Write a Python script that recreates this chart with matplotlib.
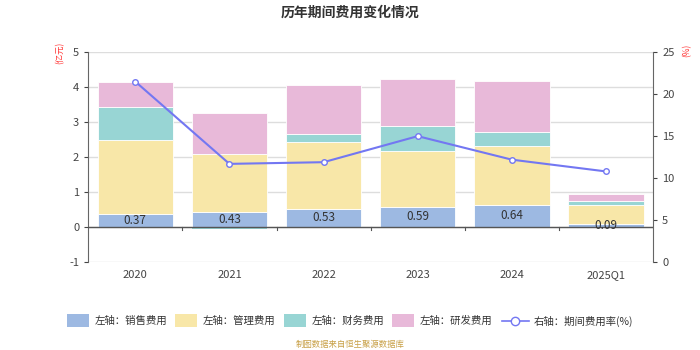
import matplotlib.pyplot as plt
import numpy as np

plt.rcParams['font.family'] = ['Noto Sans CJK SC', 'DejaVu Sans']
plt.rcParams['axes.unicode_minus'] = False

years = ['2020', '2021', '2022', '2023', '2024', '2025Q1']
sales = [0.37, 0.43, 0.53, 0.59, 0.64, 0.09]
admin = [2.13, 1.66, 1.90, 1.59, 1.67, 0.54]
finance = [0.94, -0.06, 0.23, 0.71, 0.40, 0.11]
rnd = [0.70, 1.17, 1.40, 1.34, 1.47, 0.22]
rate = [21.5, 11.7, 11.9, 15.0, 12.2, 10.8]

c_sales = '#9db9e2'
c_admin = '#f8e7a8'
c_fin = '#98d5d4'
c_rnd = '#e8b9d9'
c_line = '#7377f2'

fig = plt.figure(figsize=(7, 3.5), dpi=100)
ax = fig.add_axes([0.126, 0.251, 0.807, 0.6])
ax2 = ax.twinx()

x = np.arange(len(years))
w = 0.8
sales = np.array(sales)
admin = np.array(admin)
finance = np.array(finance)
rnd = np.array(rnd)

# positive and negative parts stack separately
pos_base = np.zeros(len(x))
neg_base = np.zeros(len(x))
for vals, col in [(sales, c_sales), (admin, c_admin), (finance, c_fin), (rnd, c_rnd)]:
    pos = np.where(vals >= 0, vals, 0)
    neg = np.where(vals < 0, vals, 0)
    ax.bar(x, pos, w, bottom=pos_base, color=col, edgecolor='white', linewidth=0.6, zorder=2)
    ax.bar(x, neg, w, bottom=neg_base, color=col, edgecolor='none', linewidth=0, zorder=2)
    pos_base += pos
    neg_base += neg

for xi, v in zip(x, sales):
    ax.text(xi, v / 2, f'{v:.2f}', ha='center', va='center', fontsize=8.5,
            color='#333333', zorder=4)

ax.set_ylim(-1, 5)
ax.set_yticks(range(-1, 6))
ax.set_xlim(-0.5, len(years) - 0.5)
ax.set_xticks(x)
ax.set_xticklabels(years, fontsize=8, color='#444444')
ax.tick_params(axis='x', length=0, pad=6)
ax.tick_params(axis='y', labelsize=8, colors='#444444', length=3)
ax.grid(axis='y', color='#dddddd', linewidth=1, zorder=0)
ax.set_axisbelow(True)
for s in ['top', 'right', 'bottom']:
    ax.spines[s].set_visible(False)
ax.spines['left'].set_color('#666666')
ax.axhline(0, color='#555555', linewidth=1, zorder=3)
for b in np.arange(0.5, len(years) - 0.5, 1):
    ax.plot([b, b], [0, -0.08], color='#555555', linewidth=0.8, zorder=3)

ax2.plot(x, rate, color=c_line, linewidth=1.5, marker='o', markersize=4,
         markerfacecolor='white', markeredgecolor=c_line, zorder=5)
ax2.set_ylim(0, 25)
ax2.set_yticks(range(0, 26, 5))
ax2.tick_params(axis='y', labelsize=8, colors='#444444', length=3)
for s in ['top', 'left', 'bottom']:
    ax2.spines[s].set_visible(False)
ax2.spines['right'].set_color('#666666')

fig.text(0.085, 0.85, '(亿元)', rotation=90, color='#ff3333', fontsize=6, ha='center', va='center')
fig.text(0.982, 0.855, '(%)', rotation=90, color='#ff3333', fontsize=6, ha='center', va='center')

fig.text(0.5, 0.965, '历年期间费用变化情况', ha='center', va='center', fontsize=10,
         fontweight='bold', color='#333333')

# legend row
items = [('左轴：销售费用', c_sales), ('左轴：管理费用', c_admin),
         ('左轴：财务费用', c_fin), ('左轴：研发费用', c_rnd)]
lx = [0.095, 0.25, 0.405, 0.56]
ly = 0.083
for (label, col), px in zip(items, lx):
    fig.patches.append(plt.Rectangle((px, ly - 0.018), 0.032, 0.038, transform=fig.transFigure,
                                     facecolor=col, edgecolor='none'))
    fig.text(px + 0.04, ly, label, fontsize=7.5, color='#333333', va='center')
fig.add_artist(plt.Line2D([0.717, 0.755], [ly, ly], color=c_line, linewidth=1.2,
                          transform=fig.transFigure))
fig.add_artist(plt.Line2D([0.736], [ly], marker='o', markersize=6, markerfacecolor='white',
                          markeredgecolor=c_line, transform=fig.transFigure))
fig.text(0.763, ly, '右轴：期间费用率(%)', fontsize=7.5, color='#333333', va='center')

fig.text(0.5, 0.017, '制图数据来自恒生聚源数据库', ha='center', va='center', fontsize=6,
         color='#c8a046')

fig.savefig('out.png', dpi=100)
